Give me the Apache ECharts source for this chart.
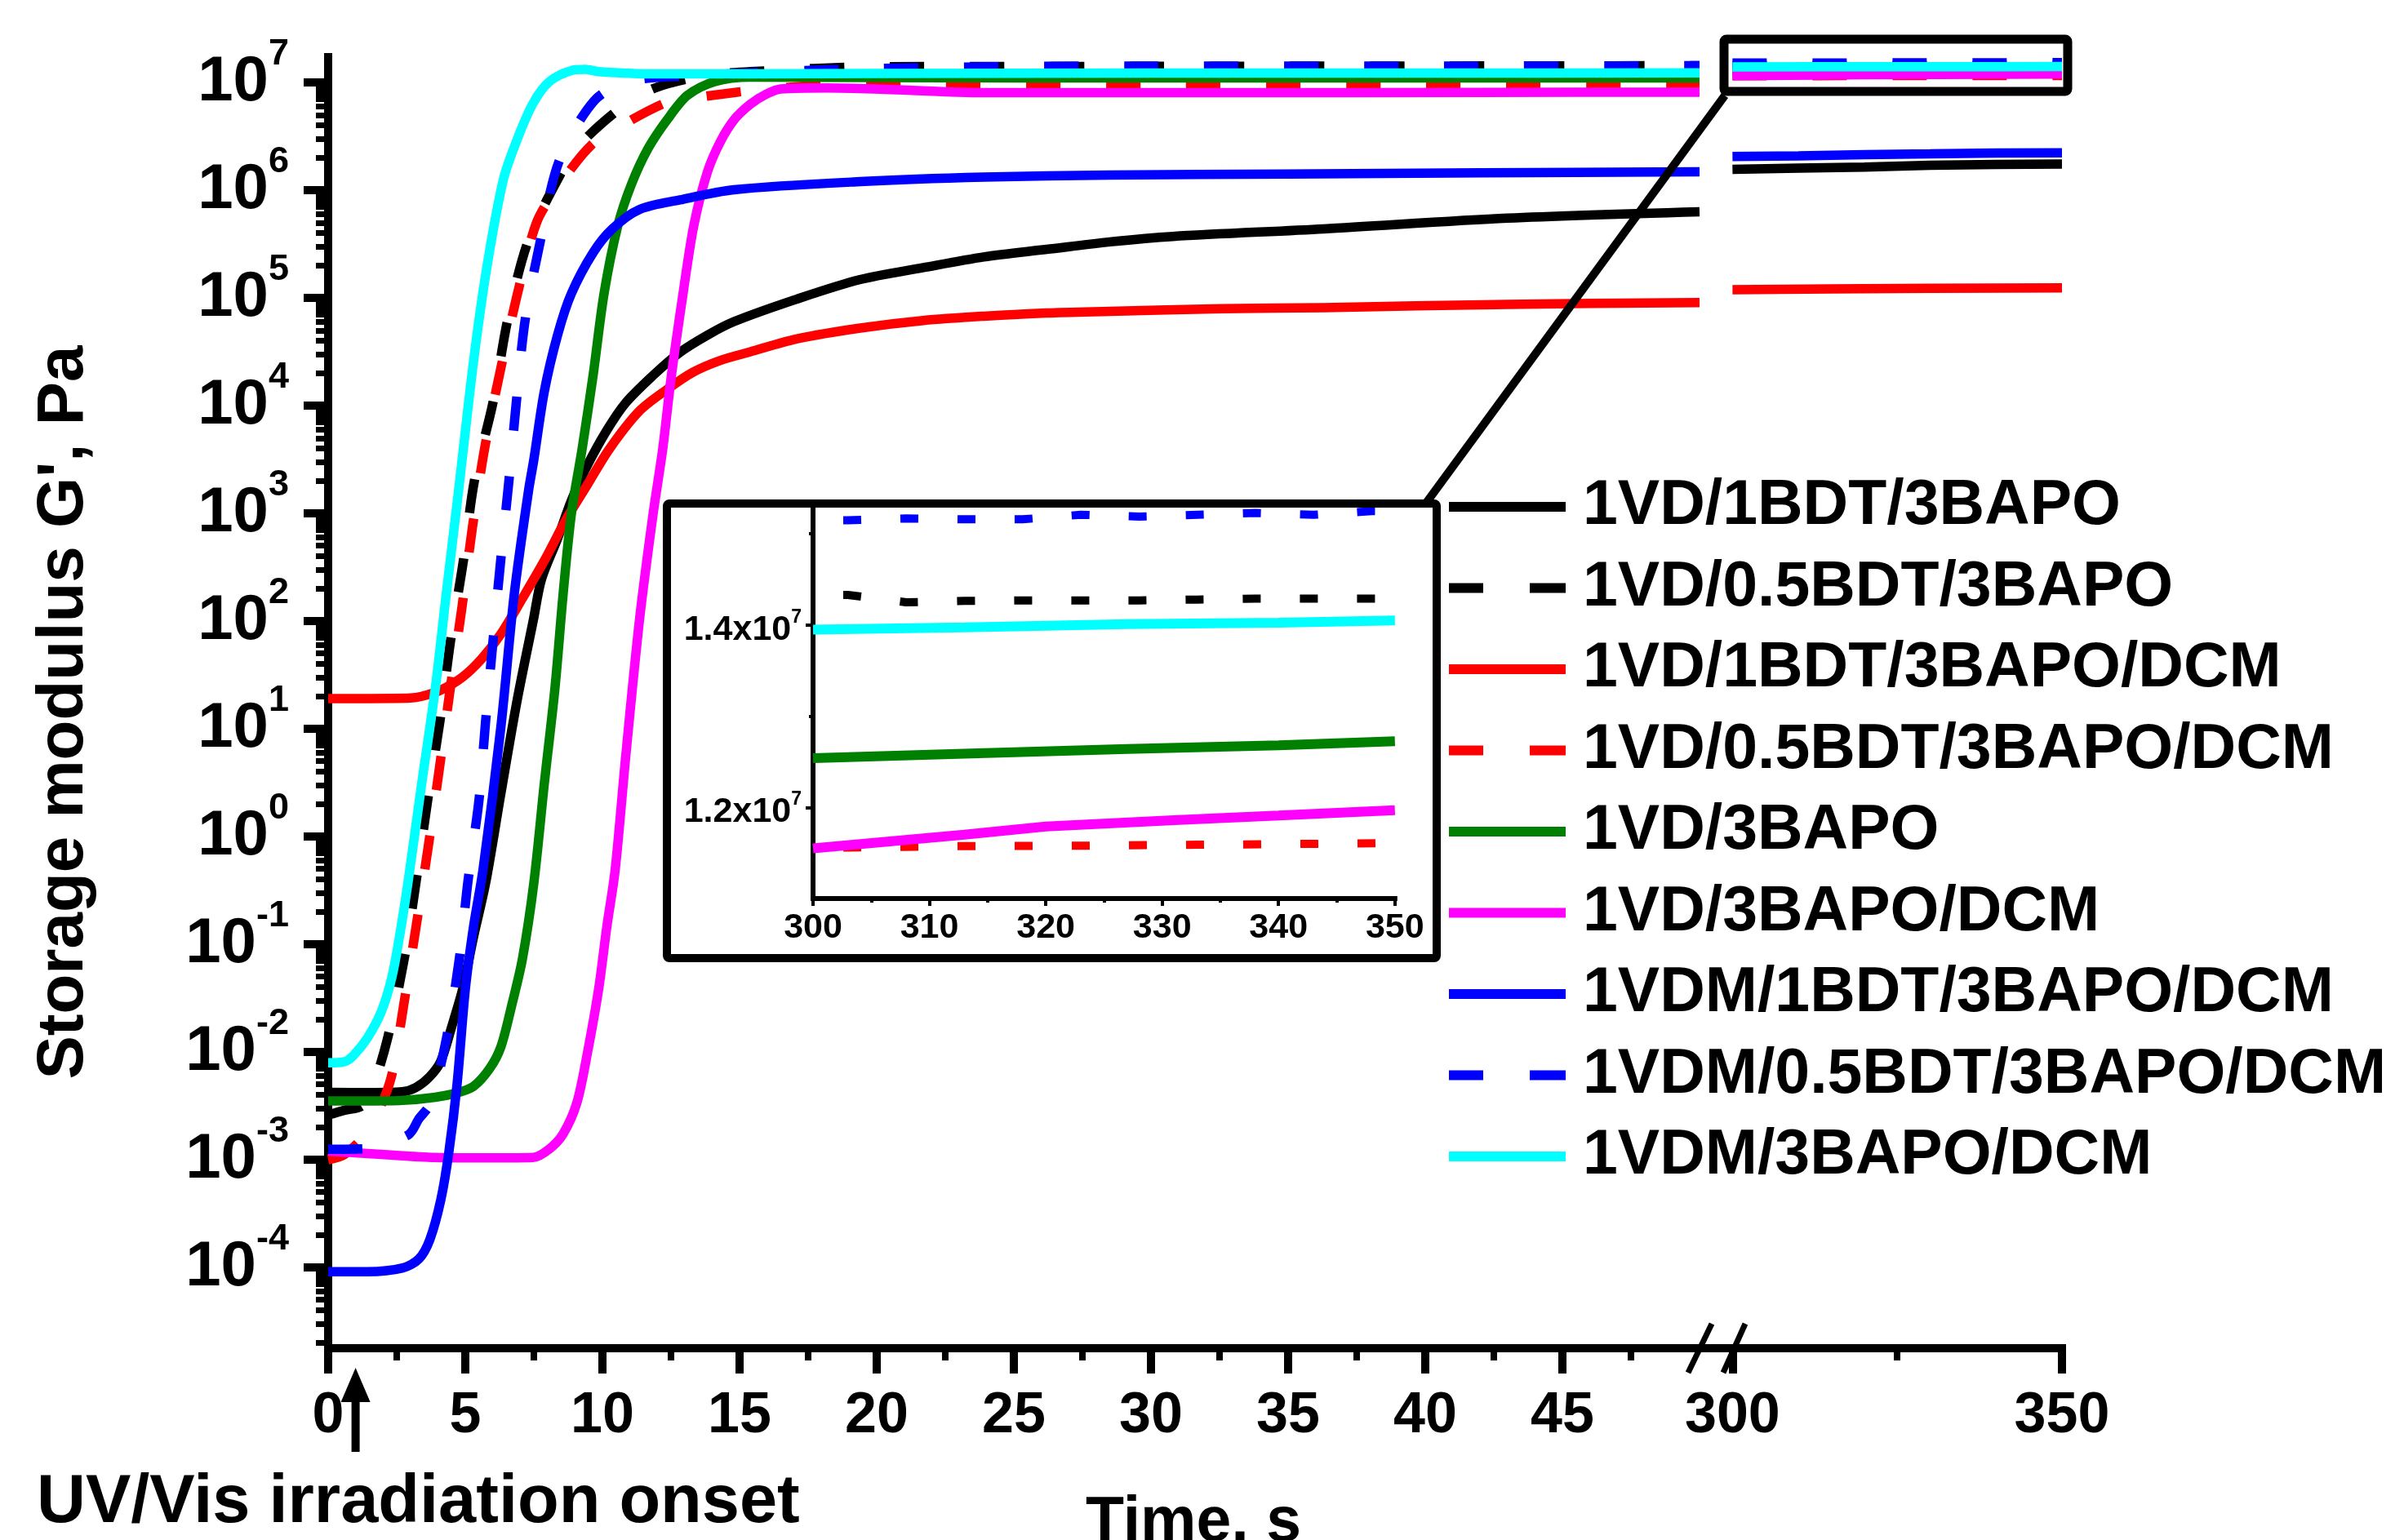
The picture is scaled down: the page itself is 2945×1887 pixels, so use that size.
<!DOCTYPE html>
<html>
<head>
<meta charset="utf-8">
<title>Storage modulus G' vs time</title>
<script src="https://cdn.jsdelivr.net/npm/echarts@6.0.0/dist/echarts.min.js"></script>
<style>
  html, body { margin: 0; padding: 0; background: #ffffff; }
  #chart { width: 2945px; height: 1887px; }
</style>
</head>
<body>
<div id="chart"></div>
<script>
// legend order of the reference
const seriesNames = ['1VD/1BDT/3BAPO', '1VD/0.5BDT/3BAPO', '1VD/1BDT/3BAPO/DCM', '1VD/0.5BDT/3BAPO/DCM',
  '1VD/3BAPO', '1VD/3BAPO/DCM', '1VDM/1BDT/3BAPO/DCM', '1VDM/0.5BDT/3BAPO/DCM', '1VDM/3BAPO/DCM'];
const seriesColors = ['#000000', '#000000', '#ff0000', '#ff0000', '#008000', '#ff00ff', '#0000ff', '#0000ff', '#00ffff'];
const seriesDashed = [false, true, false, true, false, false, false, true, false];
const inInset = [false, true, false, true, true, true, false, true, true];

// 0 - 50 s, [time s, G' Pa]
const blackSolidEarly = [[0,4.21e-3],[1.5,4.2e-3],[2.7,4.27e-3],[3.2,4.68e-3],[3.7,5.89e-3],[4.1,8.13e-3],[4.5,1.70e-2],[4.9,3.80e-2],[5.3,0.117],[5.75,0.38],[6.29,2.45],[6.88,17.8],[7.48,102],[7.78,245],[8.37,589],[8.87,1318],[9.4,2630],[10.16,5890],[10.86,1.07e4],[11.85,1.91e4],[12.8,3.09e4],[13.8,4.47e4],[14.8,6.03e4],[17.1,9.77e4],[19.4,1.48e5],[21.7,1.91e5],[23.9,2.40e5],[26.2,2.82e5],[28.5,3.31e5],[30.8,3.72e5],[36.3,4.37e5],[43,5.50e5],[50,6.31e5]];
const blackDashEarly = [[0,2.60e-3],[0.6,2.88e-3],[1.23,3.16e-3],[1.6,4.47e-3],[2.17,1.35e-2],[2.77,7.24e-2],[3.21,0.389],[3.63,2.19],[4.08,12.0],[4.47,67.6],[4.93,363],[5.33,1995],[6.01,1.07e4],[6.54,6.17e4],[7.28,3.31e5],[8.37,1.26e6],[9.17,2.63e6],[10.75,6.03e6],[11.93,8.91e6],[13.7,1.15e7],[15.4,1.26e7],[20,1.40e7],[30,1.41e7],[40,1.42e7],[50,1.43e7]];
const redSolidEarly = [[0,19.1],[1.5,19.1],[3.0,19.3],[3.41,20.0],[4.11,22.9],[4.9,30.2],[5.6,44.7],[6.3,75.9],[7.08,162],[7.88,363],[8.67,871],[9.46,1862],[10.26,3981],[11.35,8913],[12.35,1.41e4],[13.3,2.04e4],[14.3,2.63e4],[15.4,3.16e4],[17.1,4.17e4],[19.4,5.25e4],[21.7,6.17e4],[23.9,6.76e4],[26.2,7.24e4],[28.5,7.50e4],[32.6,7.94e4],[36.3,8.13e4],[43,8.71e4],[50,9.06e4]];
const redDashEarly = [[0,1.0e-3],[0.6,1.12e-3],[1.4,1.78e-3],[2.07,3.89e-3],[2.37,6.92e-3],[2.75,2.69e-2],[3.21,0.148],[3.66,0.841],[4.06,4.37],[4.46,24.5],[4.88,135],[5.26,741],[5.71,4074],[6.29,2.19e4],[6.96,1.26e5],[7.6,5.01e5],[8.3,1.0e6],[9.6,2.63e6],[10.9,4.27e6],[12.5,6.76e6],[13.7,7.41e6],[16.0,8.71e6],[18.9,9.55e6],[21.8,9.68e6],[30.5,9.70e6],[40,9.70e6],[50,9.73e6]];
const greenEarly = [[0,3.51e-3],[1.5,3.51e-3],[2.7,3.55e-3],[3.9,3.80e-3],[4.7,4.17e-3],[5.3,4.79e-3],[5.9,7.08e-3],[6.3,1.12e-2],[6.69,2.69e-2],[7.08,7.24e-2],[7.5,0.372],[7.88,3.09],[8.27,24.0],[8.57,182],[8.87,1000],[9.26,3981],[9.66,1.91e4],[10.06,1.10e5],[10.56,4.68e5],[11.05,1.12e6],[11.65,2.40e6],[12.35,4.47e6],[13.1,7.59e6],[14.1,1.02e7],[15.4,1.12e7],[20,1.11e7],[30,1.10e7],[40,1.10e7],[50,1.10e7]];
const magentaEarly = [[0,1.20e-3],[1.93,1.12e-3],[3.9,1.05e-3],[5.9,1.04e-3],[7.48,1.05e-3],[8.07,1.26e-3],[8.57,1.74e-3],[9.07,3.39e-3],[9.46,1.0e-2],[9.86,3.80e-2],[10.16,0.145],[10.46,0.479],[10.85,5.56],[11.35,102],[11.85,1000],[12.2,3981],[12.5,1.78e4],[12.94,1.10e5],[13.33,4.68e5],[13.83,1.48e6],[14.3,2.82e6],[14.82,4.57e6],[15.4,6.31e6],[15.96,7.76e6],[16.5,8.71e6],[18.2,8.91e6],[20.5,8.59e6],[23.9,8.04e6],[32.6,8.04e6],[42,8.09e6],[50,8.13e6]];
const blueSolidEarly = [[0,9.12e-5],[1.43,9.12e-5],[2.72,9.89e-5],[3.31,1.20e-4],[3.71,1.82e-4],[4.11,4.27e-4],[4.4,1.17e-3],[4.7,5.01e-3],[5.0,3.80e-2],[5.3,0.145],[5.65,0.50],[6.29,10],[6.79,182],[7.3,1585],[7.5,3162],[7.88,1.35e4],[8.37,4.57e4],[8.87,1.10e5],[9.66,2.63e5],[10.36,4.37e5],[11.35,6.61e5],[12.83,8.13e5],[14.8,1.01e6],[19.4,1.20e6],[23.9,1.32e6],[28.5,1.38e6],[35,1.41e6],[42,1.45e6],[50,1.48e6]];
const blueDashEarly = [[0,1.25e-3],[1.23,1.26e-3],[2.92,1.70e-3],[3.31,2.40e-3],[3.72,3.31e-3],[4.31,1.32e-2],[4.78,7.24e-2],[5.1,0.389],[5.5,2.19],[5.74,11.7],[6.01,64.6],[6.29,363],[6.59,1995],[6.86,1.07e4],[7.18,6.17e4],[7.73,3.31e5],[8.42,1.86e6],[9.7,6.76e6],[10.95,1.02e7],[13.04,1.15e7],[20,1.35e7],[30,1.42e7],[40,1.42e7],[50,1.43e7]];
const cyanEarly = [[0,7.94e-3],[0.6,8.13e-3],[0.93,9.33e-3],[1.43,1.35e-2],[1.93,2.34e-2],[2.32,4.90e-2],[2.62,0.126],[2.92,0.389],[3.41,3.09],[3.91,24.0],[4.31,182],[4.75,1585],[5.3,2.57e4],[5.79,1.95e5],[6.39,1.26e6],[6.89,2.95e6],[7.48,6.46e6],[8.07,1.02e7],[8.87,1.29e7],[9.37,1.32e7],[9.86,1.26e7],[11.85,1.20e7],[15.4,1.20e7],[20,1.21e7],[30,1.22e7],[40,1.22e7],[50,1.23e7]];

// 300 - 350 s
const blackSolidLate = [[300,1.56e6],[310,1.60e6],[320,1.64e6],[330,1.70e6],[340,1.73e6],[350,1.75e6]];
const blackDashLate = [[300,1.433e7],[303,1.433e7],[308,1.425e7],[313,1.4265e7],[318,1.427e7],[323,1.427e7],[328,1.427e7],[333,1.428e7],[338,1.429e7],[343,1.429e7],[348,1.429e7],[350,1.429e7]];
const redSolidLate = [[300,1.19e5],[315,1.21e5],[330,1.23e5],[350,1.24e5]];
const redDashLate = [[300,1.155e7],[303,1.156e7],[313,1.1575e7],[323,1.158e7],[333,1.159e7],[343,1.160e7],[350,1.161e7]];
const greenLate = [[300,1.254e7],[313,1.259e7],[327,1.264e7],[340,1.268e7],[350,1.2725e7]];
const magentaLate = [[300,1.155e7],[313,1.170e7],[320,1.179e7],[331,1.186e7],[340,1.191e7],[350,1.197e7]];
const blueSolidLate = [[300,2.05e6],[310,2.08e6],[320,2.14e6],[330,2.17e6],[340,2.21e6],[350,2.22e6]];
const blueDashLate = [[300,1.515e7],[303,1.515e7],[308,1.517e7],[313,1.516e7],[318,1.516e7],[323,1.521e7],[328,1.519e7],[333,1.521e7],[338,1.523e7],[343,1.521e7],[348,1.525e7],[350,1.525e7]];
const cyanLate = [[300,1.395e7],[313,1.3975e7],[327,1.401e7],[340,1.4025e7],[350,1.405e7]];

// ticks
const yExponents = [-4, -3, -2, -1, 0, 1, 2, 3, 4, 5, 6, 7];
const xTicksEarly = [0, 5, 10, 15, 20, 25, 30, 35, 40, 45];
const xMinorEarly = [2.5, 7.5, 12.5, 17.5, 22.5, 27.5, 32.5, 37.5, 42.5, 47.5];
const xTicksLate = [300, 350];
const xMinorLate = [325];
const insetYTicks = [1.2e7, 1.4e7];
const insetYMinor = [1.3e7, 1.5e7];

const early = [blackSolidEarly, blackDashEarly, redSolidEarly, redDashEarly, greenEarly, magentaEarly, blueSolidEarly, blueDashEarly, cyanEarly];
const late = [blackSolidLate, blackDashLate, redSolidLate, redDashLate, greenLate, magentaLate, blueSolidLate, blueDashLate, cyanLate];

const FONT = '"Liberation Sans", Arial, Helvetica, sans-serif';
const yMin = -4.75, yMax = 7.235;   // log10(Pa)

// log minor ticks 2..9 of each decade
const yMinor = [];
for (let n = -5; n <= 7; n++) {
  for (let k = 2; k <= 9; k++) {
    const v = n + Math.log10(k);
    if (v > yMin && v < yMax) yMinor.push(v);
  }
}

// legend samples: a bar, or two dashes
const solidIcon = 'path://M0,0H143V12H0Z';
const dashIcon = 'path://M0,0H42V12H0Z M99,0H143V12H99Z';

const chart = echarts.init(document.getElementById('chart'), null, { renderer: 'canvas' });

const mainGrid = { left: 402, top: 70, width: 1680, height: 1582, outerBoundsMode: 'none' };
const lateGrid = { left: 2082, top: 70, width: 444, height: 1582, outerBoundsMode: 'none' };
const insetGrid = { left: 996, top: 620.7, width: 712.8, height: 480.3, outerBoundsMode: 'none' };

const blackLine = (w) => ({ show: true, onZero: false, lineStyle: { color: '#000', width: w, cap: 'square' } });

const series = [];
seriesNames.forEach(function (name, i) {
  series.push({
    name: name, type: 'line', xAxisIndex: 0, yAxisIndex: 0,
    symbol: 'none', smooth: 0.3, silent: true,
    data: early[i].map(p => [p[0], Math.log10(p[1])]),
    itemStyle: { color: seriesColors[i], borderWidth: 0 },
    lineStyle: { color: seriesColors[i], width: 11.5, type: seriesDashed[i] ? [42, 56] : 'solid', cap: 'butt', join: 'round' }
  });
});
seriesNames.forEach(function (name, i) {
  series.push({
    name: name, type: 'line', xAxisIndex: 2, yAxisIndex: 2,
    symbol: 'none', silent: true,
    data: late[i].map(p => [p[0], Math.log10(p[1])]),
    itemStyle: { color: seriesColors[i], borderWidth: 0 },
    lineStyle: { color: seriesColors[i], width: 11.5, type: seriesDashed[i] ? [42, 56] : 'solid', cap: 'butt' }
  });
});
seriesNames.forEach(function (name, i) {
  if (!inInset[i]) return;
  series.push({
    name: name, type: 'line', xAxisIndex: 4, yAxisIndex: 4,
    symbol: 'none', silent: true,
    data: late[i],
    itemStyle: { color: seriesColors[i], borderWidth: 0 },
    lineStyle: seriesDashed[i]
      ? { color: seriesColors[i], width: 10, type: [22, 48], dashOffset: 33, cap: 'butt' }
      : { color: seriesColors[i], width: 12, cap: 'butt' }
  });
});

const option = {
  backgroundColor: '#ffffff',
  animation: false,
  textStyle: { fontFamily: FONT, fontWeight: 'bold', color: '#000' },
  grid: [mainGrid, mainGrid, lateGrid, lateGrid, insetGrid, insetGrid],
  legend: {
    orient: 'vertical', left: 1775, top: 581, padding: 0,
    itemWidth: 143, itemHeight: 12, itemGap: 19.5,
    selectedMode: false, symbolKeepAspect: false,
    itemStyle: { borderWidth: 0 },
    textStyle: { fontFamily: FONT, fontWeight: 'bold', fontSize: 77, color: '#000', lineHeight: 80, padding: [0, 0, 0, 16] },
    data: seriesNames.map((n, i) => ({ name: n, icon: seriesDashed[i] ? dashIcon : solidIcon }))
  },
  xAxis: [
    { gridIndex: 0, type: 'value', min: 0, max: 50,
      axisLine: blackLine(10),
      axisTick: { show: true, customValues: xTicksEarly, length: 31, lineStyle: { color: '#000', width: 10 } },
      axisLabel: { customValues: xTicksEarly, fontSize: 70, fontWeight: 'bold', fontFamily: FONT, color: '#000', margin: 49 },
      splitLine: { show: false } },
    { gridIndex: 1, type: 'value', min: 0, max: 50,
      axisLine: { show: false, onZero: false },
      axisTick: { show: true, customValues: xMinorEarly, length: 15, lineStyle: { color: '#000', width: 8 } },
      axisLabel: { show: false }, splitLine: { show: false } },
    { gridIndex: 2, type: 'value', min: 295, max: 350,
      axisLine: blackLine(10),
      axisTick: { show: true, customValues: xTicksLate, length: 31, lineStyle: { color: '#000', width: 10 } },
      axisLabel: { customValues: xTicksLate, fontSize: 70, fontWeight: 'bold', fontFamily: FONT, color: '#000', margin: 49 },
      splitLine: { show: false } },
    { gridIndex: 3, type: 'value', min: 295, max: 350,
      axisLine: { show: false, onZero: false },
      axisTick: { show: true, customValues: xMinorLate, length: 15, lineStyle: { color: '#000', width: 8 } },
      axisLabel: { show: false }, splitLine: { show: false } },
    { gridIndex: 4, type: 'value', min: 300, max: 350, interval: 10,
      axisLine: blackLine(6),
      axisTick: { show: true, length: 9, lineStyle: { color: '#000', width: 4 } },
      minorTick: { show: true, splitNumber: 2, length: 5, lineStyle: { color: '#000', width: 4 } },
      axisLabel: { fontSize: 43, fontWeight: 'bold', fontFamily: FONT, color: '#000', margin: 15 },
      splitLine: { show: false }, minorSplitLine: { show: false } },
    { gridIndex: 5, type: 'value', min: 300, max: 350, show: false }
  ],
  yAxis: [
    { gridIndex: 0, type: 'value', min: yMin, max: yMax,
      axisLine: blackLine(10),
      axisTick: { show: true, customValues: yExponents, length: 30, lineStyle: { color: '#000', width: 10 } },
      axisLabel: {
        customValues: yExponents, margin: 48,
        formatter: v => '{b|10}{s|' + v + '}',
        rich: {
          b: { fontSize: 78, fontWeight: 'bold', fontFamily: FONT, color: '#000', lineHeight: 114, verticalAlign: 'middle' },
          s: { fontSize: 45, fontWeight: 'bold', fontFamily: FONT, color: '#000', lineHeight: 45, verticalAlign: 'top' }
        }
      },
      splitLine: { show: false } },
    { gridIndex: 1, type: 'value', min: yMin, max: yMax,
      axisLine: { show: false, onZero: false },
      axisTick: { show: true, customValues: yMinor, length: 15, lineStyle: { color: '#000', width: 7 } },
      axisLabel: { show: false }, splitLine: { show: false } },
    { gridIndex: 2, type: 'value', min: yMin, max: yMax, show: false },
    { gridIndex: 3, type: 'value', min: yMin, max: yMax, show: false },
    { gridIndex: 4, type: 'value', min: 1.1e7, max: 1.53e7,
      axisLine: blackLine(6),
      axisTick: { show: true, customValues: insetYTicks, length: 9, lineStyle: { color: '#000', width: 4 } },
      axisLabel: {
        customValues: insetYTicks, margin: 14, padding: [12, 0, 0, 0],
        formatter: v => '{b|' + (v / 1e7).toFixed(1) + 'x10}{s|7}',
        rich: {
          b: { fontSize: 43, fontWeight: 'bold', fontFamily: FONT, color: '#000', lineHeight: 54, verticalAlign: 'middle' },
          s: { fontSize: 23, fontWeight: 'bold', fontFamily: FONT, color: '#000', lineHeight: 23, verticalAlign: 'top' }
        }
      },
      splitLine: { show: false } },
    { gridIndex: 5, type: 'value', min: 1.1e7, max: 1.53e7,
      axisLine: { show: false, onZero: false },
      axisTick: { show: true, customValues: insetYMinor, length: 5, lineStyle: { color: '#000', width: 4 } },
      axisLabel: { show: false }, splitLine: { show: false } }
  ],
  graphic: [
    { id: 'ytitle', type: 'text', x: 79, y: 873, rotation: Math.PI / 2, z: 10,
      style: { text: "Storage modulus G', Pa", font: 'bold 80px ' + FONT, fill: '#000',
        align: 'center', verticalAlign: 'middle', textAlign: 'center', textVerticalAlign: 'middle' } },
    { id: 'uvtext', type: 'text', x: 45, y: 1842, z: 10,
      style: { text: 'UV/Vis irradiation onset', font: 'bold 83px ' + FONT, fill: '#000',
        align: 'left', verticalAlign: 'middle', textAlign: 'left', textVerticalAlign: 'middle' } },
    { id: 'xtitle', type: 'text', x: 1462, y: 1867, z: 10,
      style: { text: 'Time, s', font: 'bold 77px ' + FONT, fill: '#000',
        align: 'center', verticalAlign: 'middle', textAlign: 'center', textVerticalAlign: 'middle' } },
    // axis break marks
    { id: 'brk1', type: 'line', z: 10, shape: { x1: 2097, y1: 1622, x2: 2068, y2: 1682 }, style: { stroke: '#000', lineWidth: 7 } },
    { id: 'brk2', type: 'line', z: 10, shape: { x1: 2138, y1: 1622, x2: 2111, y2: 1682 }, style: { stroke: '#000', lineWidth: 7 } },
    // zoom box, connector and inset frame
    { id: 'zoombox', type: 'rect', z: 10, shape: { x: 2112, y: 48, width: 421, height: 64, r: 3 },
      style: { fill: 'none', stroke: '#000', lineWidth: 11 } },
    { id: 'connector', type: 'line', z: 10, shape: { x1: 2113, y1: 117, x2: 1748, y2: 615 },
      style: { stroke: '#000', lineWidth: 10 } },
    { id: 'insetframe', type: 'rect', z: 10, shape: { x: 817, y: 617, width: 943, height: 557, r: 3 },
      style: { fill: 'none', stroke: '#000', lineWidth: 10 } }
  ],
  series: series
};

chart.setOption(option);

// irradiation onset arrow at t = 1 s, below the time axis
const arrowX = chart.convertToPixel({ xAxisIndex: 0 }, 1);
chart.setOption({
  graphic: [
    { id: 'arrowhead', type: 'polygon', z: 10,
      shape: { points: [[arrowX, 1676], [arrowX - 18, 1718], [arrowX + 18, 1718]] },
      style: { fill: '#000' } },
    { id: 'arrowstem', type: 'rect', z: 10,
      shape: { x: arrowX - 5, y: 1714, width: 10, height: 65 },
      style: { fill: '#000' } }
  ]
});
</script>
</body>
</html>
